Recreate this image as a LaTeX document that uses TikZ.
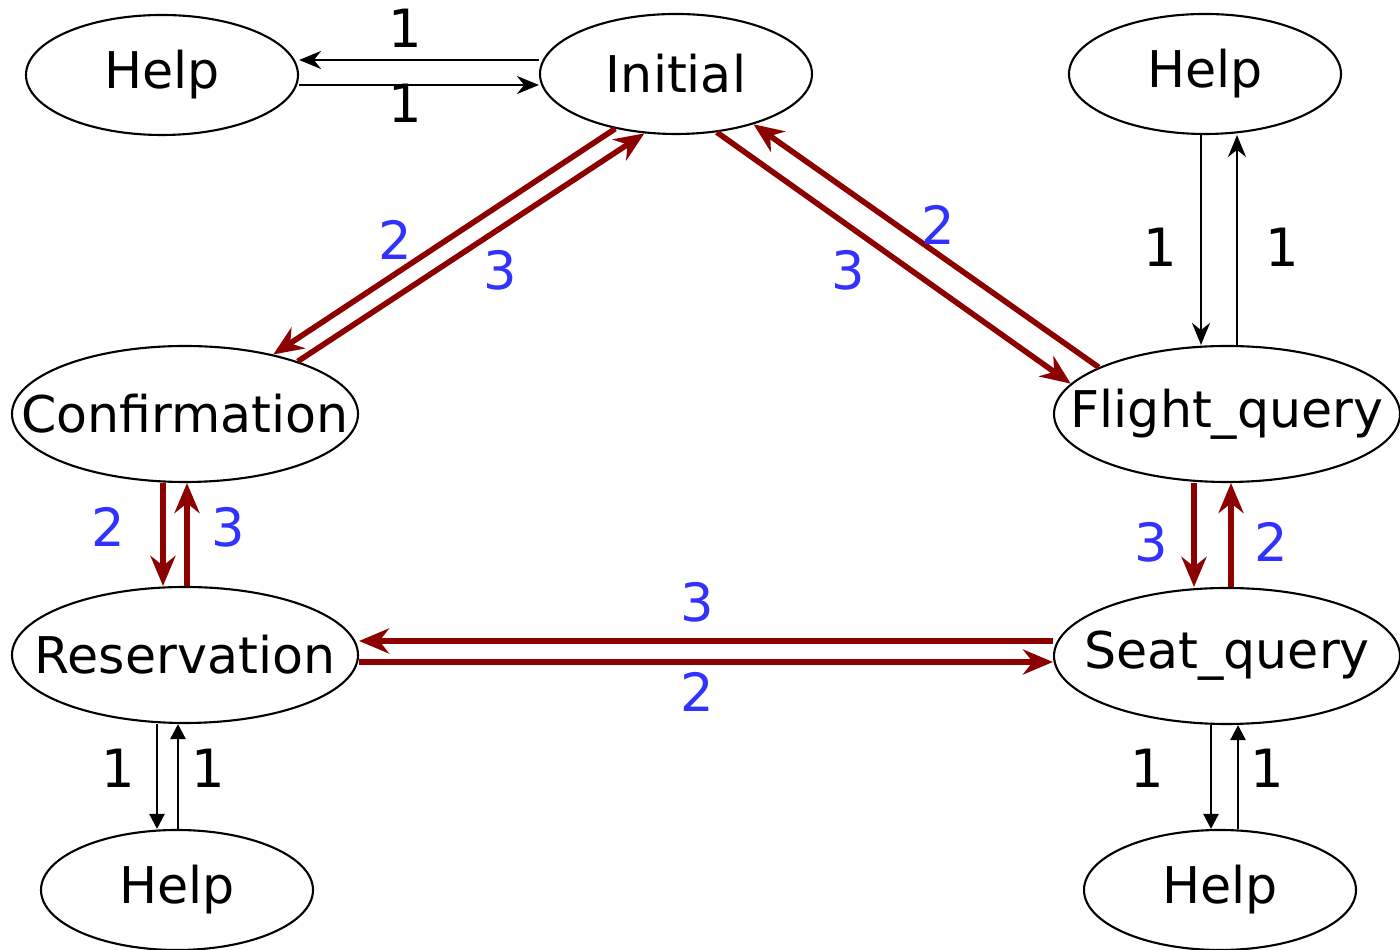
\documentclass[tikz,border=0pt]{standalone}
\usepackage{fontspec}
\setmainfont{DejaVu Sans}
\usetikzlibrary{shapes.geometric,arrows.meta}
\definecolor{arcred}{RGB}{140,0,0}
\definecolor{arcblue}{RGB}{50,50,255}
\newcommand\statename[1]{\makebox[0pt]{#1}}

\begin{document}
\begin{tikzpicture}[
  state/.style={ellipse, draw, line width=0.6pt, inner sep=0pt,
    minimum width=2.72cm, minimum height=1.2cm, font=\fontsize{14.4}{17}\selectfont},
  bigstate/.style={state, minimum width=3.46cm, minimum height=1.36cm},
  hop/.style={line width=1.6pt, arcred, -{Stealth[length=0.3cm,width=0.25cm]}},
  help/.style={line width=0.7pt, -{Stealth[length=0.22cm,width=0.18cm]}},
  helpdown/.style={line width=0.7pt, -{Triangle[length=0.15cm,width=0.15cm]}},
  num/.style={font=\fontsize{15}{18}\selectfont},
  bnum/.style={num, arcblue}]
\useasboundingbox (0,0) rectangle (14,9.5);

\node[state] (hlpTL) at (1.62,8.75) {\statename{Help}};
\node[state] (init) at (6.76,8.76) {\statename{Initial}};
\node[state] (hlpTR) at (12.05,8.76) {\statename{Help}};
\node[bigstate] (conf) at (1.85,5.36) {\statename{Confirmation}};
\node[bigstate] (flight) at (12.27,5.36) {\statename{Flight\_query}};
\node[bigstate] (res) at (1.85,2.95) {\statename{Reservation}};
\node[bigstate] (seat) at (12.27,2.94) {\statename{Seat\_query}};
\node[state] (hlpBL) at (1.77,0.60) {\statename{Help}};
\node[state] (hlpBR) at (12.20,0.60) {\statename{Help}};

% help loops
\draw[help] ([yshift=0.14cm]init.west) -- ([yshift=0.14cm]init.west -| hlpTL.east);
\draw[help] ([yshift=-0.11cm]init.west -| hlpTL.east) -- ([yshift=-0.11cm]init.west);
\node[num] (l1) at (4.05,9.22) {1};
\node[num] (l2) at (4.05,8.47) {1};

\draw[help] ([xshift=-0.04cm]hlpTR.south) -- ([xshift=-0.04cm]hlpTR.south |- flight.north);
\draw[help] ([xshift=0.32cm]hlpTR.south |- flight.north) -- ([xshift=0.32cm]hlpTR.south);
\node[num] (l3) at (11.60,7.03) {1};
\node[num] (l4) at (12.82,7.03) {1};

\draw[helpdown] ([xshift=-0.28cm]res.south) -- ([xshift=-0.28cm]res.south |- hlpBL.north);
\draw[helpdown] ([xshift=-0.07cm]res.south |- hlpBL.north) -- ([xshift=-0.07cm]res.south);
\node[num] (l5) at (1.18,1.82) {1};
\node[num] (l6) at (2.08,1.82) {1};

\draw[helpdown] ([xshift=-0.16cm]seat.south) -- ([xshift=-0.16cm]seat.south |- hlpBR.north);
\draw[helpdown] ([xshift=0.11cm]seat.south |- hlpBR.north) -- ([xshift=0.11cm]seat.south);
\node[num] (l7) at (11.47,1.82) {1};
\node[num] (l8) at (12.67,1.82) {1};

% main transitions
\draw[hop] (init.222) -- (conf.34);
\draw[hop] (conf.25) -- (init.242);
\node[bnum] (t1) at (3.95,7.10) {2};
\node[bnum] (t2) at (5.00,6.80) {3};

\draw[hop] (init.305) -- (flight.169);
\draw[hop] (flight.160) -- (init.327);
\node[bnum] (t3) at (9.38,7.25) {2};
\node[bnum] (t4) at (8.48,6.80) {3};

\draw[hop] ([xshift=-0.22cm]conf.south) -- ([xshift=-0.22cm]conf.south |- res.north);
\draw[hop] ([xshift=0.02cm]conf.south |- res.north) -- ([xshift=0.02cm]conf.south);
\node[bnum] (t5) at (1.08,4.23) {2};
\node[bnum] (t6) at (2.28,4.23) {3};

\draw[hop] ([xshift=-0.33cm]flight.south) -- ([xshift=-0.33cm]flight.south |- seat.north);
\draw[hop] ([xshift=0.04cm]flight.south |- seat.north) -- ([xshift=0.04cm]flight.south);
\node[bnum] (t7) at (11.51,4.08) {3};
\node[bnum] (t8) at (12.71,4.08) {2};

\draw[hop] ([yshift=0.15cm]seat.west) -- ([yshift=0.15cm]seat.west -| res.east);
\draw[hop] ([yshift=-0.06cm]seat.west -| res.east) -- ([yshift=-0.06cm]seat.west);
\node[bnum] (t9) at (6.97,3.48) {3};
\node[bnum] (t10) at (6.97,2.58) {2};
\end{tikzpicture}
\end{document}
